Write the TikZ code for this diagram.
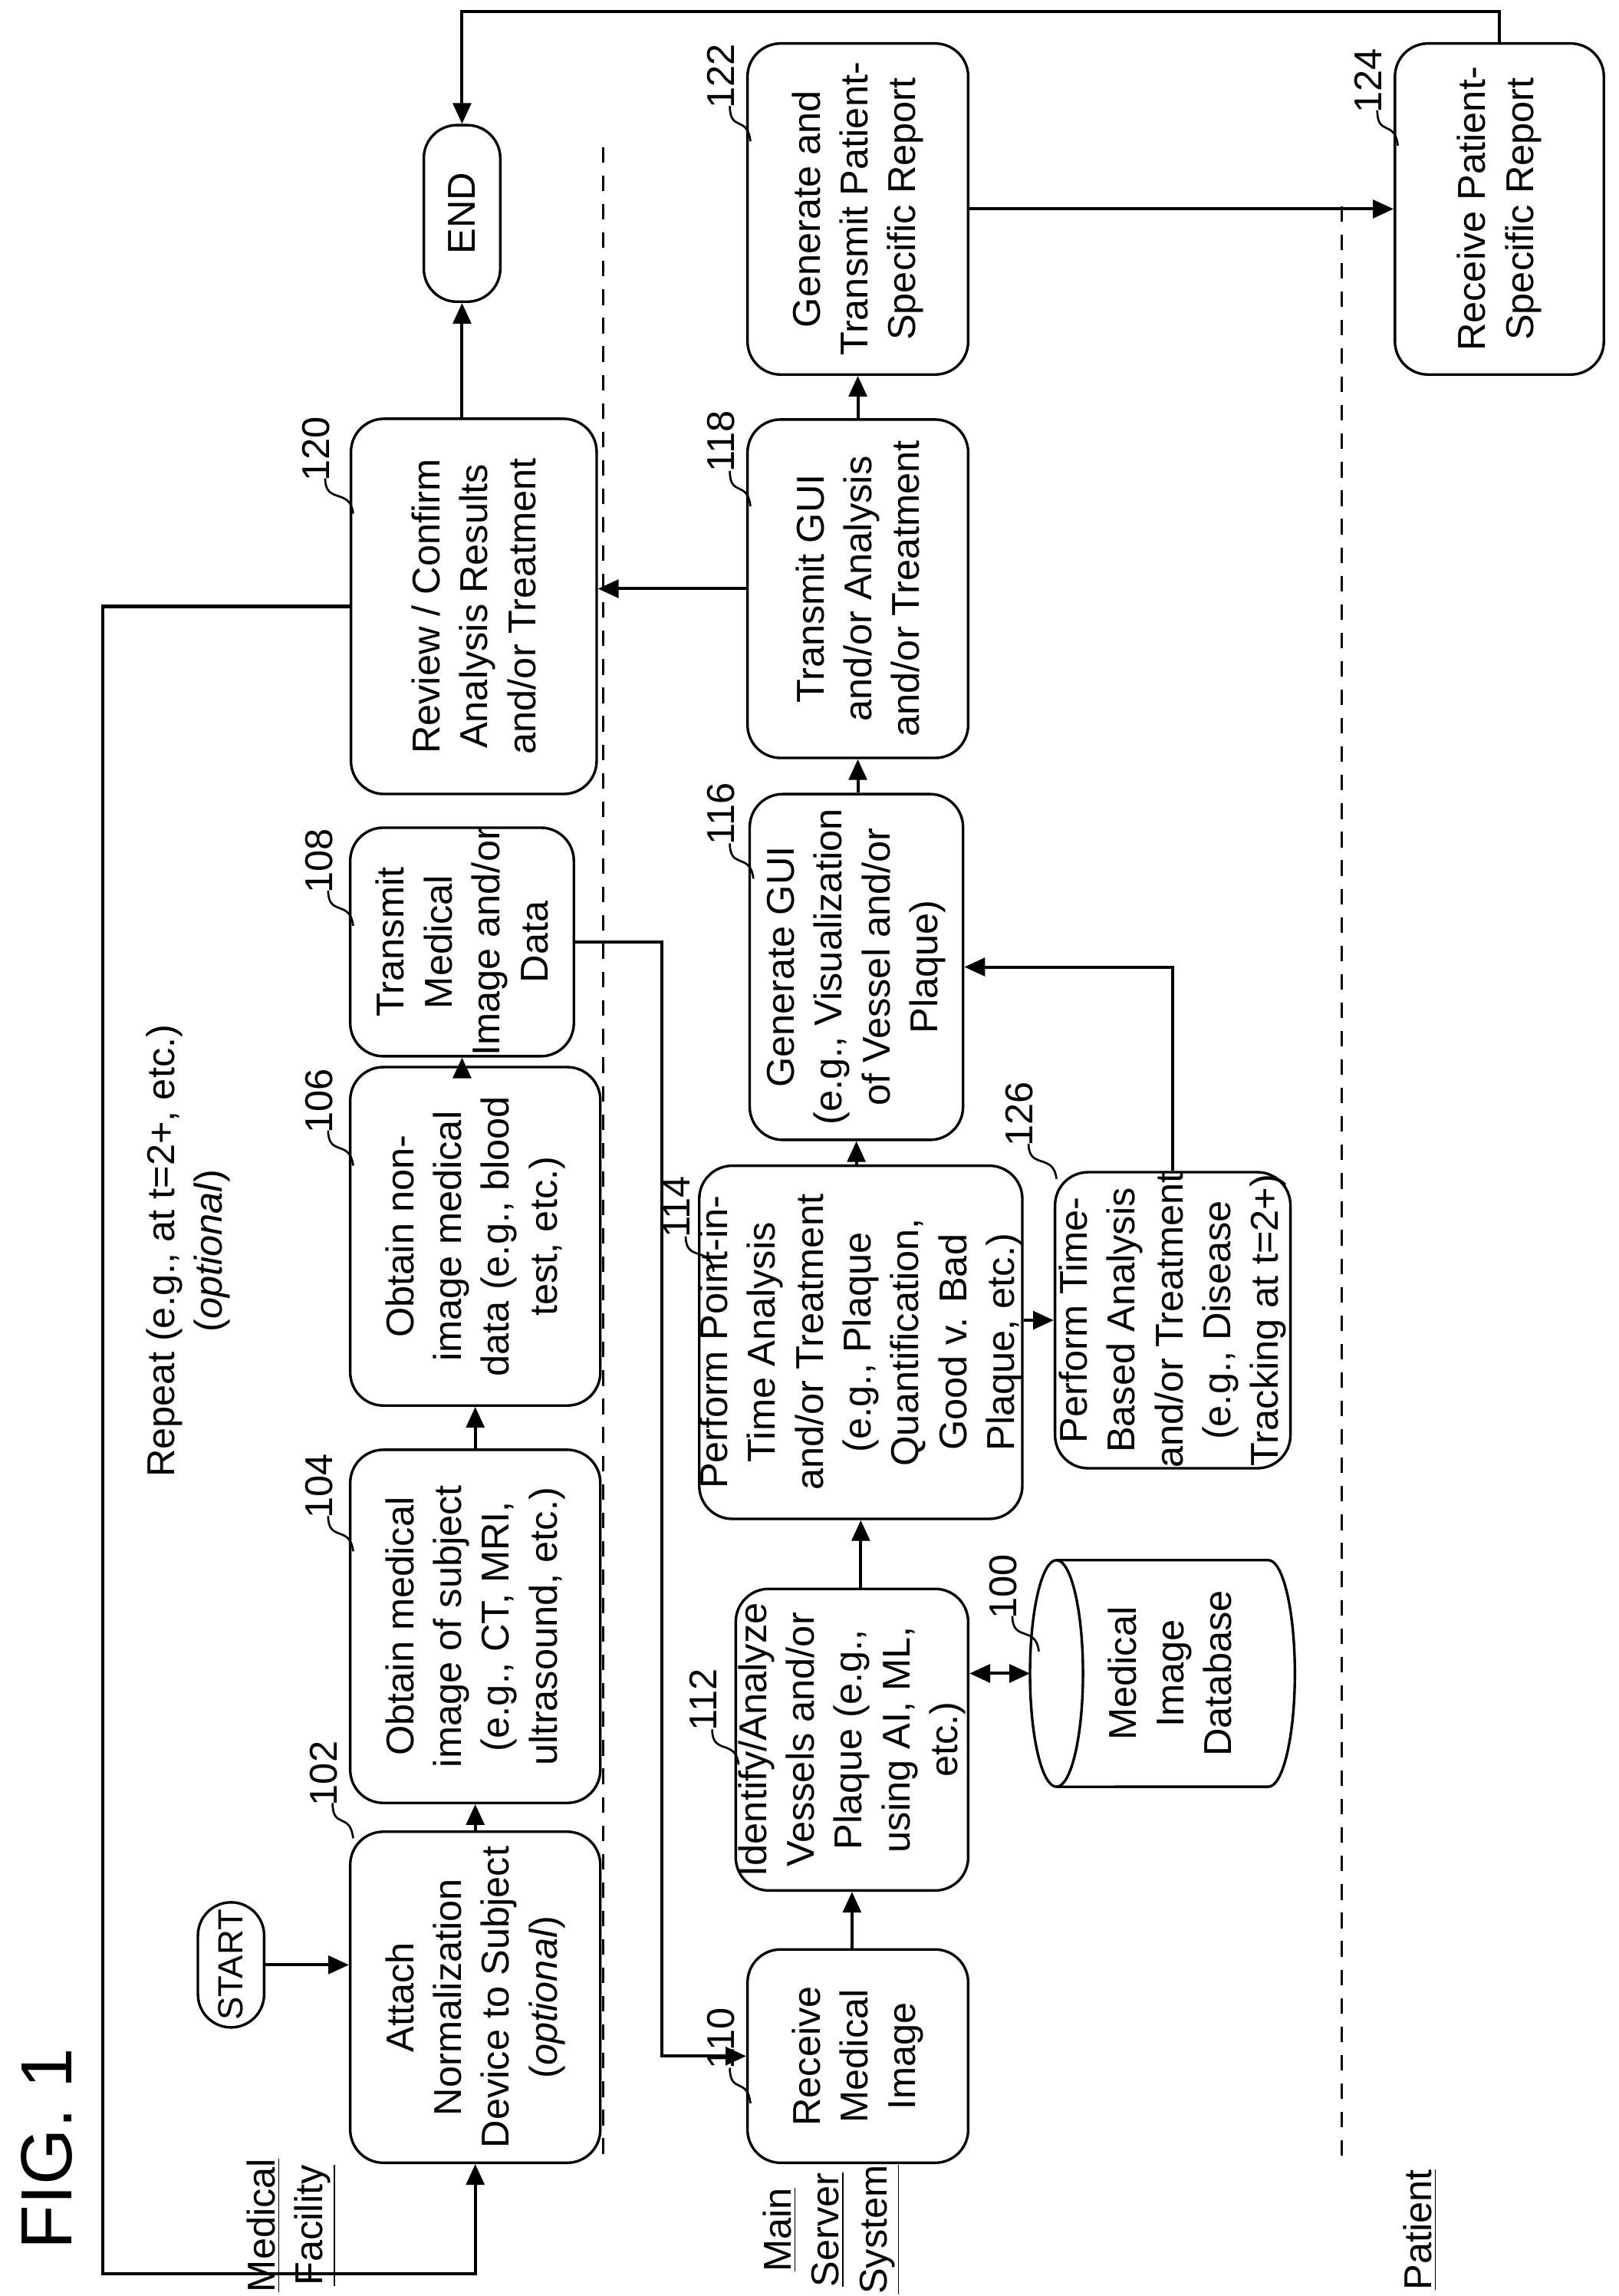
\documentclass[tikz,border=0pt]{standalone}
\usepackage{fontspec}
\setmainfont{Liberation Sans}
\usetikzlibrary{arrows.meta}
\begin{document}
\begin{tikzpicture}[x=0.02cm,y=-0.02cm,
  every node/.style={rotate=90,font=\fontsize{15}{18.5}\selectfont,align=center},
  box/.style={draw,line width=1pt,rounded corners=0.45cm,inner sep=0pt},
  arr/.style={line width=1.2pt,-{Triangle[length=8pt,width=7pt]}},
  lab/.style={font=\fontsize{15}{18}\selectfont},
  dsh/.style={line width=1pt,dash pattern=on 6pt off 5pt}]
\useasboundingbox (0,0) rectangle (1100,1560);
\newcommand\reflab[4]{\node[lab] at (#1,#2) {#3};
  \draw[line width=0.8pt] (#1+6,#2+20) .. controls (#1+6,#2+38) and (#4-2,#2+26) .. (#4,#2+44);}
% title and lanes
\node[font=\fontsize{28}{32}\selectfont] (fig) at (32,1460) {FIG. 1};
\node (lmf) at (198,1512) {\underline{Medical}\\\underline{Facility}};
\node (lms) at (565,1515) {\underline{Main}\\\underline{Server}\\\underline{System}};
\node (lpt) at (965,1515) {\underline{Patient}};
\draw[dsh] (410,100) -- (410,1470);
\draw[dsh] (912,140) -- (912,1470);
% nodes
\node[box,minimum width=1.7cm,minimum height=0.9cm,font=\fontsize{13.5}{16}\selectfont] (start) at (157,1335) {START};
\node[box,minimum width=4.5cm,minimum height=3.4cm] (n102) at (323,1357) {Attach\\Normalization\\Device to Subject\\(\textit{optional})};
\node[box,minimum width=4.8cm,minimum height=3.4cm] (n104) at (323,1105) {Obtain medical\\image of subject\\(e.g., CT, MRI,\\ultrasound, etc.)};
\node[box,minimum width=4.6cm,minimum height=3.4cm] (n106) at (323,840) {Obtain non-\\image medical\\data (e.g., blood\\test, etc.)};
\node[box,minimum width=2.8cm,minimum height=3.04cm] (n108) at (314,640) {Transmit\\Medical\\Image and/or\\Data};
\node[box,minimum width=5.1cm,minimum height=3.34cm] (n120) at (322,412) {Review / Confirm\\Analysis Results\\and/or Treatment};
\node[box,minimum width=2.4cm,minimum height=1.04cm] (end) at (314,145) {END};
\node[box,minimum width=2.9cm,minimum height=3.0cm] (n110) at (583,1397) {Receive\\Medical\\Image};
\node[box,minimum width=4.1cm,minimum height=3.16cm] (n112) at (579,1182) {Identify/Analyze\\Vessels and/or\\Plaque (e.g.,\\using AI, ML,\\etc.)};
\node[box,minimum width=4.8cm,minimum height=4.2cm] (n114) at (585,912) {Perform Point-in-\\Time Analysis\\and/or Treatment\\(e.g., Plaque\\Quantification,\\Good v. Bad\\Plaque, etc.)};
\node[box,minimum width=3.8cm,minimum height=3.2cm] (n126) at (797,897) {Perform Time-\\Based Analysis\\and/or Treatment\\(e.g., Disease\\Tracking at t=2+)};
\node[box,minimum width=4.7cm,minimum height=2.9cm] (n116) at (582,657) {Generate GUI\\(e.g., Visualization\\of Vessel and/or\\Plaque)};
\node[box,minimum width=4.6cm,minimum height=3.0cm] (n118) at (583,400) {Transmit GUI\\and/or Analysis\\and/or Treatment};
\node[box,minimum width=4.5cm,minimum height=3.0cm] (n122) at (583,142) {Generate and\\Transmit Patient-\\Specific Report};
\node[box,minimum width=4.5cm,minimum height=2.84cm] (n124) at (1019,142) {Receive Patient-\\Specific Report};
% database cylinder
\draw[line width=1pt] (718,1060) -- (862,1060) arc[start angle=90,end angle=-90,x radius=0.36cm,y radius=1.54cm] -- (718,1214);
\draw[line width=1pt] (718,1137) ellipse [x radius=0.36cm,y radius=1.54cm];
\node (db) at (795,1137) {Medical\\Image\\Database};
\coordinate (dbL) at (700,1137);
% repeat label
\node (rep) at (128,850) {Repeat (e.g., at t=2+, etc.)\\(\textit{optional})};
% connectors
\draw[arr] (start.south) -- (start.south -| n102.north);
\draw[arr] (n102.east) -- (n104.west);
\draw[arr] (n104.east) -- (n106.west);
\draw[arr] (n106.east -| n108.west) -- (n108.west);
\draw[arr] (n108.south) -| (450,1397) -- (n110.north);
\draw[arr] (n110.east -| n112.west) -- (n112.west);
\draw[{Triangle[length=8pt,width=7pt]}-{Triangle[length=8pt,width=7pt]},line width=1.2pt] (n112.south |- dbL) -- (dbL);
\draw[arr] (n112.east -| n114.west) -- (n114.west);
\draw[arr] (n126.north -| n114.south) -- (n126.north);
\draw[arr] (n114.east -| n116.west) -- (n116.west);
\draw[arr] (n126.east) |- (n116.south);
\draw[arr] (n116.east -| n118.west) -- (n118.west);
\draw[arr] (n118.north) -- (n118.north -| n120.south);
\draw[arr] (n118.east) -- (n122.west);
\draw[arr] (end.west |- n120.east) -- (end.west);
\draw[arr] (n122.south) -- (n124.north);
\draw[arr] (n124.east) -- (1019,8) -| (end.east);
\draw[arr] (n120.north) -- (70,412) -- (70,1545) -| (n102.west);
% reference numerals
\reflab{220}{1205}{102}{240}
\reflab{217}{1010}{104}{240}
\reflab{217}{748}{106}{240}
\reflab{217}{585}{108}{240}
\reflab{215}{305}{120}{240}
\reflab{490}{1385}{110}{510}
\reflab{478}{1155}{112}{502}
\reflab{682}{1078}{100}{706}
\reflab{460}{820}{114}{485}
\reflab{693}{757}{126}{718}
\reflab{490}{553}{116}{512}
\reflab{490}{300}{118}{510}
\reflab{490}{52}{122}{510}
\reflab{930}{55}{124}{950}
\end{tikzpicture}
\end{document}
